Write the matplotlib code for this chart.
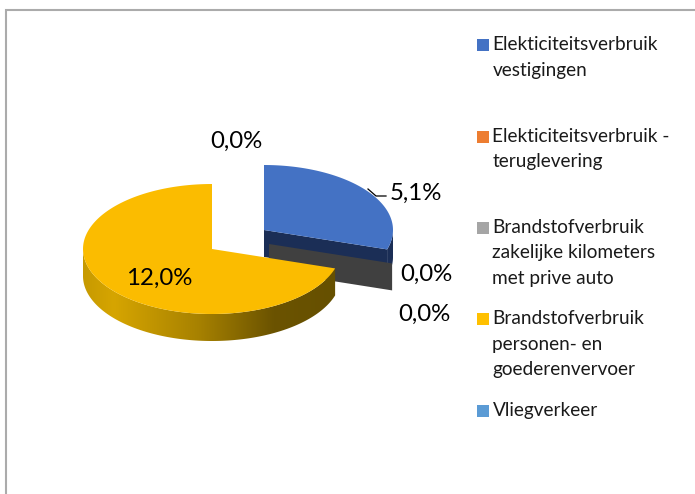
import numpy as np
import matplotlib
matplotlib.use("Agg")
import matplotlib.pyplot as plt
from matplotlib.patches import Polygon, Rectangle
from matplotlib.colors import LinearSegmentedColormap

plt.rcParams['font.family'] = ['Lato', 'DejaVu Sans']

categories = ["Elekticiteitsverbruik\nvestigingen", "Elekticiteitsverbruik -\nteruglevering",
              "Brandstofverbruik\nzakelijke kilometers\nmet prive auto",
              "Brandstofverbruik\npersonen- en\ngoederenvervoer", "Vliegverkeer"]
values = [5.1, 0.0, 0.0, 12.0, 0.0]
labels = ["5,1%", "0,0%", "0,0%", "12,0%", "0,0%"]
colors = ["#4472C4", "#ED7D31", "#A5A5A5", "#FBBC00", "#5B9BD5"]
swatch_colors = ["#4472C4", "#ED7D31", "#A5A5A5", "#FFC000", "#5B9BD5"]

# geometry in pixels
RX, RY, DEPTH = 129, 65, 27
C_YELLOW = (212, 249)
C_BLUE = (264, 230)
C_GREY = (269, 244)
label_pos = [(416, 193), (426, 274), (424, 314), (159, 278), (236, 141)]
legend_swatch_x, legend_text_x = 477, 492.5
legend_y = [45.5, 136.5, 227.5, 319, 411]
LINE_H = 25.7

fig = plt.figure(figsize=(6.95, 4.94), dpi=100)
ax = fig.add_axes([0, 0, 1, 1])
ax.set_xlim(0, 695); ax.set_ylim(494, 0); ax.axis("off")

ax.plot([6, 6, 695], [494, 10, 10], color="#ABABAB", lw=1.5, solid_joinstyle="miter")

total = sum(values)
blue_sweep = 360 * values[0] / total
split = 90 - blue_sweep          # boundary between first slice and yellow, in degrees


def pt(c, deg, dy=0):
    t = np.radians(deg)
    return (c[0] + RX * np.cos(t), c[1] - RY * np.sin(t) + dy)


def arc(c, a0, a1, dy=0, n=200):
    return [pt(c, a, dy) for a in np.linspace(a0, a1, n)]


# zero-value slice: only its cut face shows
p = pt(C_GREY, split)
grey_face = [C_GREY, p, (p[0], p[1] + DEPTH), (C_GREY[0], C_GREY[1] + DEPTH)]

# blue slice: dark sides first
navy = "#1B2E56"
blue_low = [C_BLUE, pt(C_BLUE, split), pt(C_BLUE, split, DEPTH),
            (C_BLUE[0], C_BLUE[1] + DEPTH)]
ax.add_patch(Polygon(blue_low, closed=True, fc=navy, ec="none", zorder=2))
side = arc(C_BLUE, split, 0) + arc(C_BLUE, 0, split, DEPTH)
ax.add_patch(Polygon(side, closed=True, fc=navy, ec="none", zorder=2))
ax.add_patch(Polygon(grey_face, closed=True, fc="#404040", ec="none", zorder=3))
top = [C_BLUE] + arc(C_BLUE, split, 90)
ax.add_patch(Polygon(top, closed=True, fc=colors[0], ec="none", zorder=4))

# yellow slice: gradient rim, flat top
rim = arc(C_YELLOW, 180, 360 + split) + arc(C_YELLOW, 360 + split, 180, DEPTH)
rim_patch = Polygon(rim, closed=True, fc="none", ec="none", zorder=5)
ax.add_patch(rim_patch)
cmap = LinearSegmentedColormap.from_list("rim", [
    (0.00, "#C79A00"), (0.12, "#D6A500"), (0.45, "#A88200"),
    (0.75, "#6B5300"), (1.00, "#665000")])
img = ax.imshow(np.linspace(0, 1, 256)[None, :], cmap=cmap, aspect="auto",
                extent=(83, 337, 494, 0), zorder=5)
img.set_clip_path(rim_patch)
ax.set_xlim(0, 695); ax.set_ylim(494, 0)
top = [C_YELLOW] + arc(C_YELLOW, 90, 360 + split)
ax.add_patch(Polygon(top, closed=True, fc=colors[3], ec="none", zorder=6))

# leader line
ax.plot([368, 376, 386], [189, 196, 196], color="black", lw=0.9, zorder=7)

for (x, y), s in zip(label_pos, labels):
    ax.text(x, y, s, fontsize=17.3, color="black", ha="center", va="center", zorder=8)

for y, name, c in zip(legend_y, categories, swatch_colors):
    ax.add_patch(Rectangle((legend_swatch_x, y - 6), 12, 12, fc=c, ec="none"))
    for i, line in enumerate(name.split("\n")):
        ax.text(legend_text_x, y + i * LINE_H - 0.5, line, fontsize=13.7, color="#1a1a1a",
                ha="left", va="center")

fig.savefig("out.png", dpi=100)
